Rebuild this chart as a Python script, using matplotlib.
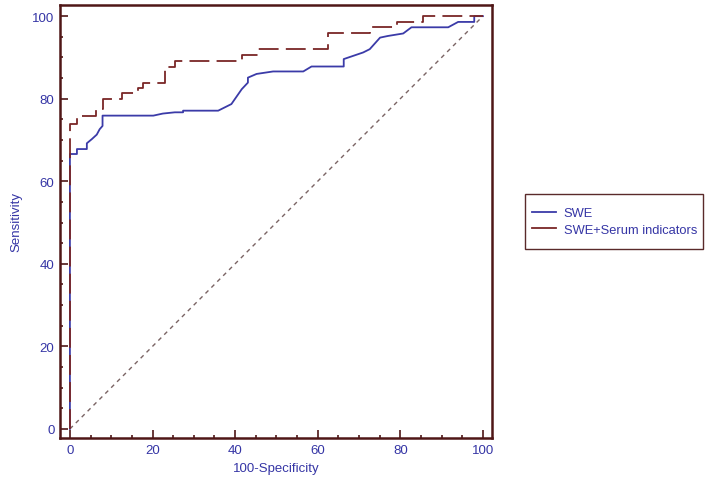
import matplotlib
matplotlib.use("Agg")
import matplotlib.pyplot as plt
from matplotlib.lines import Line2D
from matplotlib.patches import Rectangle
from matplotlib.ticker import MultipleLocator

# ROC curve data (100-Specificity, Sensitivity)
swe_fpr = [0, 0, 1.7, 1.7, 4.1, 4.1, 5.3, 6.5, 7.2, 7.9, 7.9, 20.2, 22.5, 25.4, 27.4, 27.4,
           35.9, 39.1, 41.6, 43.1, 43.1, 45.2, 49.2, 56.5, 58.5, 66.3, 66.3, 71.0, 72.6,
           75.1, 77.0, 80.7, 82.7, 91.6, 94.0, 97.9, 97.9, 100]
swe_tpr = [0, 66.6, 66.6, 67.8, 67.8, 69.2, 70.2, 71.3, 72.6, 73.4, 75.9, 75.9, 76.4, 76.7, 76.7, 77.1,
           77.1, 78.7, 82.3, 83.9, 85.1, 86.0, 86.6, 86.6, 87.8, 87.8, 89.6, 91.2, 92.0,
           94.8, 95.2, 95.8, 97.3, 97.3, 98.6, 98.6, 100, 100]

combo_fpr = [0, 0, 1.6, 1.6, 6.3, 6.3, 8.1, 8.1, 12.5, 12.5, 16.5, 16.5, 17.8, 17.8, 23.0, 23.0,
             25.4, 25.4, 41.6, 41.6, 45.5, 45.5, 62.5, 62.5, 72.6, 72.6, 79.1, 79.1, 85.5, 85.5, 100]
combo_tpr = [0, 73.8, 73.8, 75.9, 75.9, 77.5, 77.5, 79.9, 79.9, 81.3, 81.3, 82.5, 82.5, 83.8, 83.8, 87.7,
             87.7, 89.2, 89.2, 90.6, 90.6, 92.1, 92.1, 95.8, 95.8, 97.3, 97.3, 98.6, 98.6, 100, 100]

ref_line = [0, 100]

series_labels = ["SWE", "SWE+Serum indicators"]
x_label = "100-Specificity"
y_label = "Sensitivity"

blue = "#3b3ba8"
brown = "#7a2626"
frame = "#4f1616"
text_blue = "#3535a5"
fam = ["Liberation Sans", "DejaVu Sans"]

W, H = 714, 489
fig = plt.figure(figsize=(W / 100, H / 100), dpi=100)
fig.patch.set_facecolor("white")
ax = fig.add_axes([60 / W, 1 - 439 / H, (492 - 60) / W, (439 - 6) / H])

ax.plot(ref_line, ref_line, color="#7a6464", lw=1.0, dashes=(3, 3), zorder=1)
ax.plot(swe_fpr, swe_tpr, color=blue, lw=1.3, zorder=2)
ax.plot(combo_fpr, combo_tpr, color=brown, lw=1.3, dashes=(11, 4), zorder=3)

ax.set_xlim(-2.4, 102.2)
ax.set_ylim(-2.2, 102.7)

for sp in ax.spines.values():
    sp.set_color(frame)
    sp.set_linewidth(1.8)

ax.xaxis.set_major_locator(MultipleLocator(20))
ax.xaxis.set_minor_locator(MultipleLocator(5))
ax.yaxis.set_major_locator(MultipleLocator(20))
ax.yaxis.set_minor_locator(MultipleLocator(5))
ax.tick_params(which="both", direction="in", color=frame, width=1.2)
ax.tick_params(which="major", length=5.5, labelsize=9.5, labelcolor=text_blue, pad=4)
ax.tick_params(which="minor", length=2.5)
for lab in ax.get_xticklabels() + ax.get_yticklabels():
    lab.set_family(fam)

ax.set_xlabel(x_label, color=text_blue, fontsize=9.5, family=fam, labelpad=5)
ax.set_ylabel(y_label, color=text_blue, fontsize=9.5, family=fam, labelpad=7)

# legend box
fig.patches.append(Rectangle((525 / W, 1 - 250 / H), (703 - 525) / W, (250 - 195) / H,
                             transform=fig.transFigure, facecolor="white",
                             edgecolor="#5a2a2a", linewidth=1.0, zorder=0))
handles = [Line2D([], [], color=blue, lw=1.3), Line2D([], [], color=brown, lw=1.3)]
leg = fig.legend(handles, series_labels, loc="upper left",
                 bbox_to_anchor=(532 / W, 1 - 208 / H), frameon=False,
                 prop={"family": fam, "size": 9.3},
                 handlelength=1.85, handletextpad=0.6, borderpad=0, labelspacing=0.35,
                 borderaxespad=0)
for t in leg.get_texts():
    t.set_color(text_blue)

fig.savefig("out.png", dpi=100, facecolor="white")
